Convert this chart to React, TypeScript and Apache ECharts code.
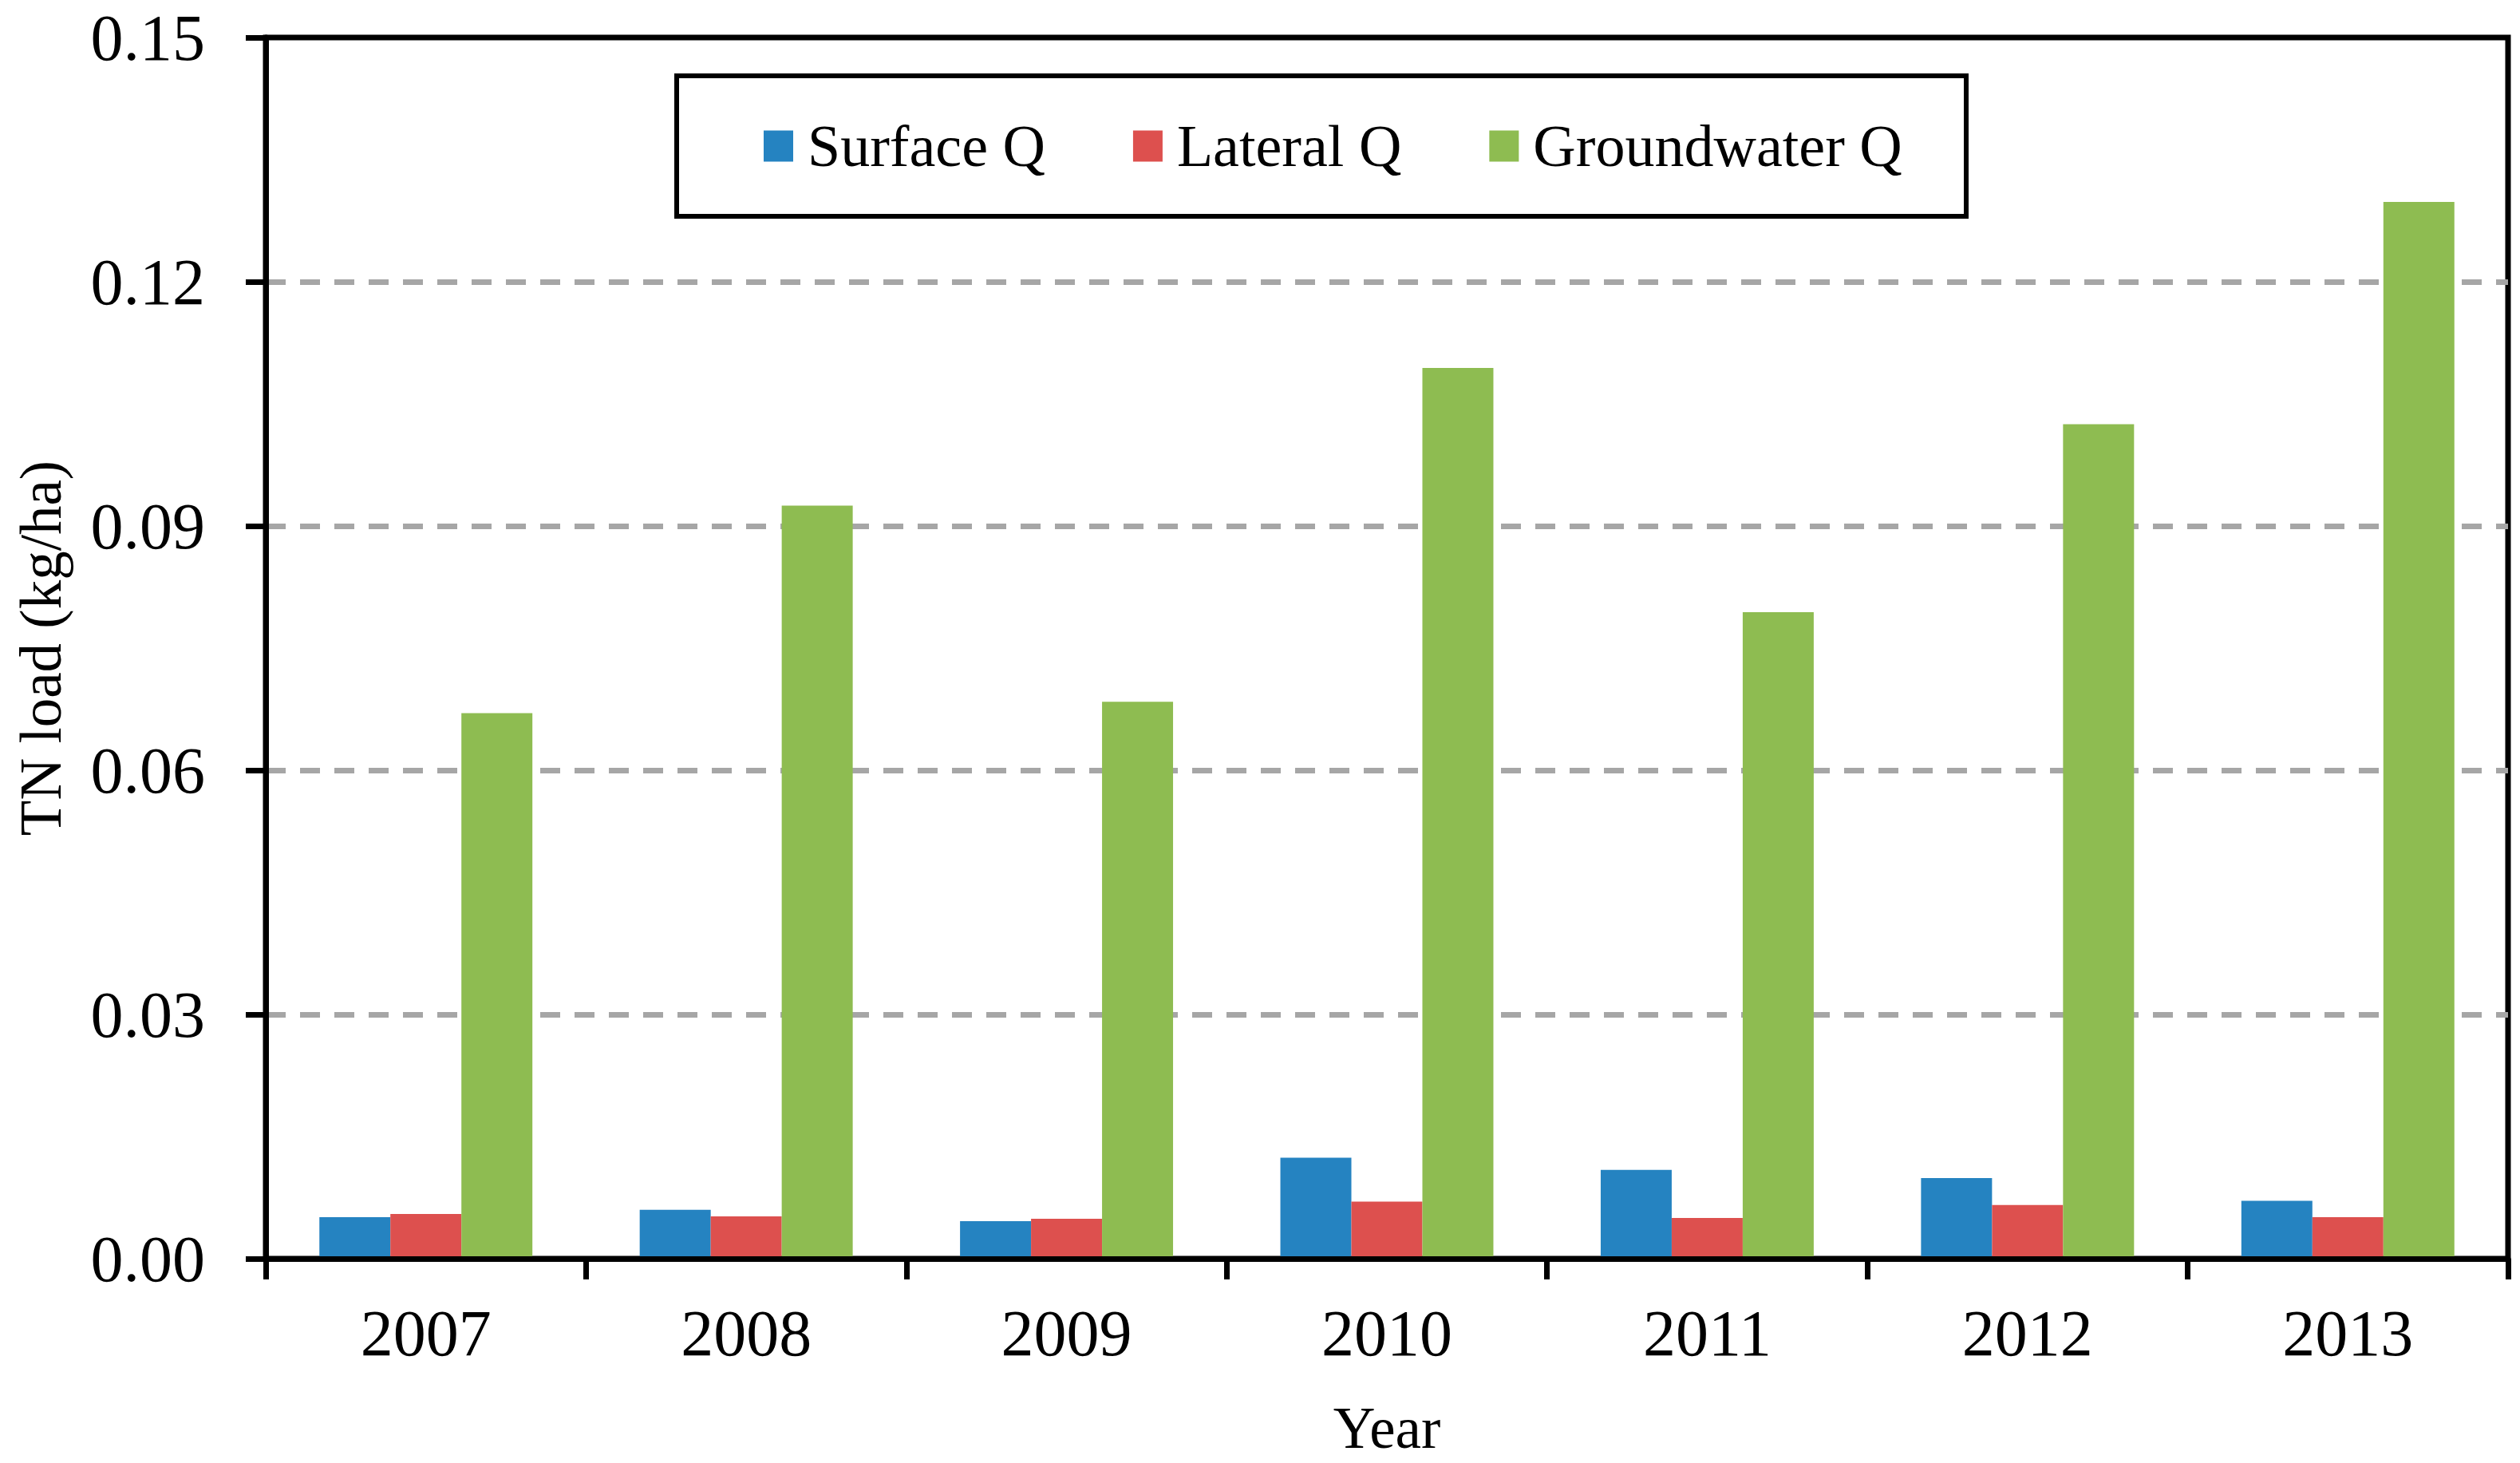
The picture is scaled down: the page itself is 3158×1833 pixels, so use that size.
import React, { useEffect, useRef } from "react";
import * as echarts from "echarts";

const years = ["2007", "2008", "2009", "2010", "2011", "2012", "2013"];
const surfaceQ = [0.0051, 0.006, 0.0046, 0.0124, 0.0109, 0.0099, 0.0071];
const lateralQ = [0.0055, 0.0052, 0.0049, 0.007, 0.005, 0.0066, 0.0051];
const groundwaterQ = [0.067, 0.0925, 0.0684, 0.1094, 0.0794, 0.1025, 0.1298];
const seriesNames = ["Surface Q", "Lateral Q", "Groundwater Q"];
const seriesColors = ["#2583C1", "#DD504E", "#8EBC51"];

const FONT = "'Liberation Serif', 'Times New Roman', serif";

export default function App() {
  const ref = useRef<HTMLDivElement>(null);
  useEffect(() => {
    if (!ref.current) return;
    const chart = echarts.init(ref.current, undefined, { renderer: "svg" });
    const values = [surfaceQ, lateralQ, groundwaterQ];
    chart.setOption({
      animation: false,
      backgroundColor: "#ffffff",
      textStyle: { fontFamily: FONT, color: "#000" },
      grid: {
        left: 333,
        right: 15,
        top: 47,
        bottom: 256,
        show: true,
        borderColor: "#000",
        borderWidth: 7,
        containLabel: false,
      },
      legend: {
        left: 957,
        top: 146,
        padding: 0,
        itemWidth: 37,
        itemHeight: 39,
        itemGap: 110,
        icon: "rect",
        textStyle: {
          fontFamily: FONT,
          fontSize: 74,
          color: "#000",
          lineHeight: 39,
          padding: [0, 0, 0, 13],
        },
        data: seriesNames,
      },
      graphic: [
        {
          type: "rect",
          z: 0,
          shape: { x: 848, y: 95, width: 1616, height: 176 },
          style: { fill: "#fff", stroke: "#000", lineWidth: 6 },
        },
      ],
      xAxis: {
        type: "category",
        data: years,
        z: 5,
        name: "Year",
        nameLocation: "middle",
        nameGap: 176,
        nameTextStyle: { fontFamily: FONT, fontSize: 73, color: "#000" },
        axisLine: { show: true, lineStyle: { color: "#000", width: 7 } },
        axisTick: {
          show: true,
          inside: false,
          length: 26,
          alignWithLabel: false,
          interval: 0,
          lineStyle: { color: "#000", width: 7 },
        },
        axisLabel: {
          fontFamily: FONT,
          fontSize: 82,
          color: "#000",
          margin: 52,
          interval: 0,
        },
        splitLine: { show: false },
      },
      yAxis: {
        type: "value",
        min: 0,
        max: 0.15,
        interval: 0.03,
        name: "TN load (kg/ha)",
        nameLocation: "middle",
        nameGap: 245,
        nameRotate: 90,
        nameTextStyle: { fontFamily: FONT, fontSize: 73, color: "#000" },
        axisLine: { show: true, lineStyle: { color: "#000", width: 7 } },
        axisTick: {
          show: true,
          inside: false,
          length: 25,
          lineStyle: { color: "#000", width: 7 },
        },
        axisLabel: {
          fontFamily: FONT,
          fontSize: 82,
          color: "#000",
          margin: 76,
          formatter: (v: number) => v.toFixed(2),
        },
        splitLine: {
          show: true,
          showMinLine: false,
          showMaxLine: false,
          lineStyle: { color: "#A6A6A6", width: 7, type: [25, 18] },
        },
      },
      series: seriesNames.map((name, i) => ({
        name,
        type: "bar",
        data: values[i],
        barGap: "0%",
        barCategoryGap: "33.5%",
        itemStyle: { color: seriesColors[i] },
      })),
    });
    return () => chart.dispose();
  }, []);
  return (
    <div
      ref={ref}
      style={{ position: "fixed", left: 0, top: 0, width: 3158, height: 1833 }}
    />
  );
}
